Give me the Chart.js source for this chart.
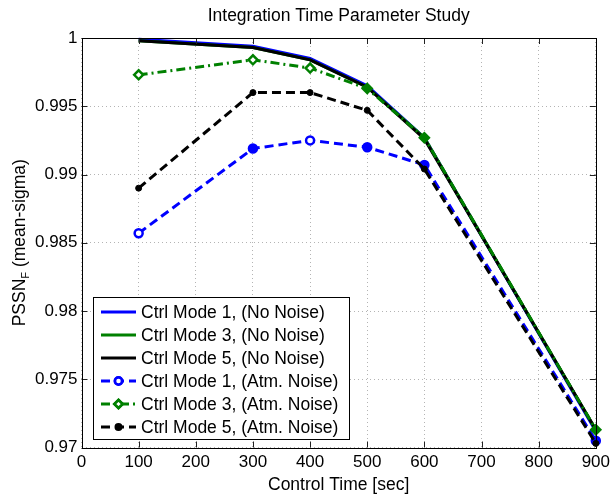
<!DOCTYPE html>
<html lang="en">
<head>
    <meta charset="UTF-8">
    <title>Integration Time Parameter Study</title>
    <script src="https://cdnjs.cloudflare.com/ajax/libs/Chart.js/4.4.1/chart.umd.min.js"></script>
    <style>
        html, body { margin: 0; padding: 0; background: #fff; }
        .chart-box { position: relative; width: 615px; height: 495px; }
    </style>
</head>
<body>
    <div class="chart-box">
        <canvas id="studyChart"></canvas>
    </div>

    <script>
        // control times (sec)
        const controlTimes = [100, 300, 400, 500, 600, 900];

        // PSSN_F (mean-sigma)
        const mode1NoNoise = [0.9999, 0.9994, 0.9985, 0.9965, 0.9927, 0.9712];
        const mode3NoNoise = [0.9998, 0.9993, 0.9984, 0.9964, 0.9927, 0.9713];
        const mode5NoNoise = [0.9998, 0.9993, 0.9984, 0.9964, 0.9926, 0.9713];
        const mode1AtmNoise = [0.9857, 0.9919, 0.9925, 0.9920, 0.9907, 0.9705];
        const mode3AtmNoise = [0.9973, 0.9984, 0.9978, 0.9963, 0.9927, 0.9713];
        const mode5AtmNoise = [0.9890, 0.9960, 0.9960, 0.9947, 0.9904, 0.9703];

        const seriesLabels = [
            'Ctrl Mode 1, (No Noise)',
            'Ctrl Mode 3, (No Noise)',
            'Ctrl Mode 5, (No Noise)',
            'Ctrl Mode 1, (Atm. Noise)',
            'Ctrl Mode 3, (Atm. Noise)',
            'Ctrl Mode 5, (Atm. Noise)'
        ];

        const xTicks = [0, 100, 200, 300, 400, 500, 600, 700, 800, 900];
        const yTicks = [0.97, 0.975, 0.98, 0.985, 0.99, 0.995, 1];

        const BLUE = '#0000ff';
        const GREEN = '#008000';
        const BLACK = '#000000';
        const FONT = '"Liberation Sans", Arial, Helvetica, sans-serif';

        function toPoints(values) {
            return controlTimes.map((t, i) => ({ x: t, y: values[i] }));
        }

        // matlab draws some of the open markers looking filled
        function markerFill(color, hollow) {
            return ctx => hollow.includes(ctx.dataIndex) ? '#ffffff' : color;
        }

        const datasets = [
            { data: toPoints(mode1NoNoise), borderColor: BLUE, borderWidth: 3, pointRadius: 0 },
            { data: toPoints(mode3NoNoise), borderColor: GREEN, borderWidth: 3, pointRadius: 0 },
            { data: toPoints(mode5NoNoise), borderColor: BLACK, borderWidth: 3, pointRadius: 0 },
            {
                data: toPoints(mode1AtmNoise), borderColor: BLUE, borderWidth: 3, borderDash: [9, 5],
                pointStyle: 'circle', pointRadius: 4, pointBorderWidth: 2.5,
                pointBorderColor: BLUE, pointBackgroundColor: markerFill(BLUE, [0, 2])
            },
            {
                data: toPoints(mode3AtmNoise), borderColor: GREEN, borderWidth: 3, borderDash: [9, 4, 2, 4],
                pointStyle: 'rectRot', pointRadius: 4.5, pointBorderWidth: 2.5,
                pointBorderColor: GREEN, pointBackgroundColor: markerFill(GREEN, [0, 1, 2])
            },
            {
                data: toPoints(mode5AtmNoise), borderColor: BLACK, borderWidth: 3, borderDash: [9, 5],
                pointStyle: 'circle', pointRadius: 3, pointBorderWidth: 1,
                pointBorderColor: BLACK, pointBackgroundColor: BLACK
            }
        ];
        datasets.forEach((ds, i) => {
            ds.label = seriesLabels[i];
            ds.tension = 0;
            ds.fill = false;
            ds.clip = false;
            ds.borderCapStyle = 'butt';
            ds.order = datasets.length - i; // later series on top, like matlab
        });

        // frame, inner ticks, title, axis titles and the in-plot legend
        const matlabDecor = {
            id: 'matlabDecor',
            afterDatasetsDraw(chart) {
                const { ctx, chartArea: a, scales } = chart;
                ctx.save();

                // inner tick marks
                ctx.strokeStyle = '#222';
                ctx.lineWidth = 1;
                ctx.beginPath();
                xTicks.forEach(v => {
                    const x = Math.round(scales.x.getPixelForValue(v)) + 0.5;
                    ctx.moveTo(x, a.bottom); ctx.lineTo(x, a.bottom - 6);
                    ctx.moveTo(x, a.top); ctx.lineTo(x, a.top + 6);
                });
                yTicks.forEach(v => {
                    const y = Math.round(scales.y.getPixelForValue(v)) + 0.5;
                    ctx.moveTo(a.left, y); ctx.lineTo(a.left + 6, y);
                    ctx.moveTo(a.right, y); ctx.lineTo(a.right - 6, y);
                });
                ctx.stroke();

                // box
                ctx.strokeStyle = '#000';
                ctx.strokeRect(Math.round(a.left) + 0.5, Math.round(a.top) + 0.5,
                    Math.round(a.right - a.left), Math.round(a.bottom - a.top));

                // legend
                const lx = 93.5, ly = 297.5, lw = 256, lh = 142;
                ctx.fillStyle = '#fff';
                ctx.fillRect(lx, ly, lw, lh);
                ctx.strokeStyle = '#000';
                ctx.lineWidth = 1;
                ctx.strokeRect(lx, ly, lw, lh);
                ctx.font = '17.5px ' + FONT;
                ctx.textBaseline = 'middle';
                ctx.textAlign = 'left';
                chart.data.datasets.forEach((ds, i) => {
                    const y = 312 + i * 23;
                    ctx.strokeStyle = ds.borderColor;
                    ctx.lineWidth = ds.borderWidth;
                    ctx.setLineDash(ds.borderDash || []);
                    ctx.beginPath();
                    ctx.moveTo(101, y); ctx.lineTo(136, y);
                    ctx.stroke();
                    ctx.setLineDash([]);
                    if (ds.pointRadius) {
                        Chart.helpers.drawPoint(ctx, {
                            pointStyle: ds.pointStyle,
                            radius: ds.pointRadius - 0.5,
                            borderWidth: ds.pointBorderWidth,
                            rotation: 0
                        }, 118.5, y);
                        ctx.fillStyle = ds.pointStyle === 'circle' && ds.pointRadius < 4 ? BLACK : '#fff';
                        ctx.strokeStyle = ds.pointBorderColor;
                        ctx.lineWidth = ds.pointBorderWidth;
                        ctx.beginPath();
                        if (ds.pointStyle === 'rectRot') {
                            const r = ds.pointRadius - 0.5;
                            ctx.moveTo(118.5, y - r); ctx.lineTo(118.5 + r, y);
                            ctx.lineTo(118.5, y + r); ctx.lineTo(118.5 - r, y);
                            ctx.closePath();
                        } else {
                            ctx.arc(118.5, y, ds.pointRadius - 0.5, 0, Math.PI * 2);
                        }
                        ctx.fill();
                        ctx.stroke();
                    }
                    ctx.fillStyle = '#000';
                    ctx.fillText(ds.label, 141, y + 1);
                });

                // title
                const cx = (a.left + a.right) / 2;
                ctx.fillStyle = '#000';
                ctx.textAlign = 'center';
                ctx.font = '17.5px ' + FONT;
                ctx.fillText('Integration Time Parameter Study', cx, 16);

                // x axis title
                ctx.fillText('Control Time [sec]', cx, 485);

                // y axis title with subscript F
                ctx.translate(20, (a.top + a.bottom) / 2);
                ctx.rotate(-Math.PI / 2);
                ctx.textAlign = 'left';
                const bigFont = '17.5px ' + FONT;
                const subFont = '11px ' + FONT;
                ctx.font = bigFont;
                const w1 = ctx.measureText('PSSN').width;
                const w3 = ctx.measureText(' (mean-sigma)').width;
                ctx.font = subFont;
                const w2 = ctx.measureText('F').width;
                let x0 = -(w1 + w2 + w3) / 2;
                ctx.font = bigFont;
                ctx.fillText('PSSN', x0, 0);
                ctx.font = subFont;
                ctx.fillText('F', x0 + w1, 6);
                ctx.font = bigFont;
                ctx.fillText(' (mean-sigma)', x0 + w1 + w2, 0);

                ctx.restore();
            }
        };

        const tickFont = { family: FONT, size: 17 };

        new Chart(document.getElementById('studyChart'), {
            type: 'line',
            data: { datasets },
            options: {
                responsive: true,
                maintainAspectRatio: false,
                animation: false,
                events: [],
                layout: { padding: { top: 38, right: 13, left: 0, bottom: 0 } },
                plugins: {
                    legend: { display: false },
                    title: { display: false },
                    tooltip: { enabled: false }
                },
                scales: {
                    x: {
                        type: 'linear',
                        min: 0,
                        max: 900,
                        afterFit: s => { s.height = 47.5; },
                        afterBuildTicks: s => { s.ticks = xTicks.map(v => ({ value: v })); },
                        ticks: { color: '#000', font: tickFont, padding: 5, maxRotation: 0, autoSkip: false },
                        grid: { color: '#b4b4b4', drawTicks: false },
                        border: { display: false, dash: [1, 3] }
                    },
                    y: {
                        type: 'linear',
                        min: 0.97,
                        max: 1,
                        afterFit: s => { s.width = 81.5; },
                        afterBuildTicks: s => { s.ticks = yTicks.map(v => ({ value: v })); },
                        ticks: {
                            color: '#000', font: tickFont, padding: 4, autoSkip: false,
                            callback: v => String(+v.toFixed(3))
                        },
                        grid: { color: '#b4b4b4', drawTicks: false },
                        border: { display: false, dash: [1, 3] }
                    }
                }
            },
            plugins: [matlabDecor]
        });
    </script>
</body>
</html>
